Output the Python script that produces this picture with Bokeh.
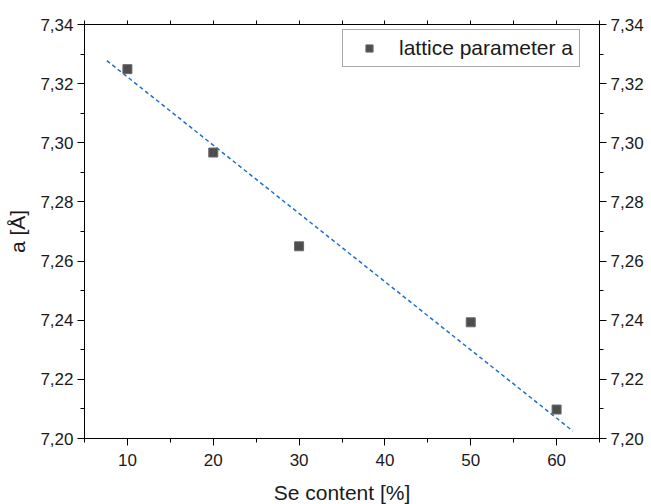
from bokeh.plotting import figure
from bokeh.models import LinearAxis, FixedTicker, Legend, LegendItem, Range1d
from bokeh.embed import file_html
from bokeh.resources import INLINE

# data
se_content = [10, 20, 30, 50, 60]
lattice_a = [7.3249, 7.2967, 7.2650, 7.2393, 7.2098]
fit_x = [7.6, 61.9]
fit_y = [7.3278, 7.2025]

x_ticks = [10, 20, 30, 40, 50, 60]
x_minor = [5, 15, 25, 35, 45, 55, 65]
y_ticks = [7.20, 7.22, 7.24, 7.26, 7.28, 7.30, 7.32, 7.34]
y_minor = [7.21, 7.23, 7.25, 7.27, 7.29, 7.31, 7.33]
y_labels = ["7,20", "7,22", "7,24", "7,26", "7,28", "7,30", "7,32", "7,34"]

FONT = "Liberation Sans"

p = figure(frame_width=515, frame_height=414,
           x_range=Range1d(5, 65), y_range=Range1d(7.20, 7.34),
           output_backend="svg", toolbar_location=None,
           min_border_left=84, min_border_top=24, min_border_right=46,
           min_border_bottom=60, x_axis_label="Se content [%]",
           y_axis_label="a [Å]")
p.xgrid.visible = False
p.ygrid.visible = False
p.outline_line_color = "black"
p.outline_line_width = 1
p.background_fill_color = "white"
p.border_fill_color = "white"

overrides = {v: s for v, s in zip(y_ticks, y_labels)}

def style_axis(ax):
    ax.axis_line_color = "black"
    ax.major_tick_line_color = "black"
    ax.minor_tick_line_color = "black"
    ax.major_tick_in = 0
    ax.minor_tick_in = 0
    ax.major_tick_out = 7
    ax.minor_tick_out = 4
    ax.major_label_text_font = FONT
    ax.major_label_text_font_size = "17px"
    ax.major_label_text_color = "#1a1a1a"
    ax.axis_label_text_font = FONT
    ax.axis_label_text_font_size = "21px"
    ax.axis_label_text_font_style = "normal"
    ax.axis_label_text_color = "#1a1a1a"

xa = p.xaxis[0]
xa.ticker = FixedTicker(ticks=x_ticks, minor_ticks=x_minor)
style_axis(xa)
xa.major_label_standoff = 8
xa.axis_label_standoff = 12

ya = p.yaxis[0]
ya.ticker = FixedTicker(ticks=y_ticks, minor_ticks=y_minor)
ya.major_label_overrides = overrides
style_axis(ya)
ya.major_label_standoff = 4
ya.axis_label_standoff = 8

ra = LinearAxis(ticker=FixedTicker(ticks=y_ticks, minor_ticks=y_minor))
ra.major_label_overrides = overrides
style_axis(ra)
ra.major_label_standoff = 4
p.add_layout(ra, "right")

ta = LinearAxis(ticker=FixedTicker(ticks=x_ticks + x_minor, minor_ticks=[]))
style_axis(ta)
ta.major_tick_out = 4
ta.minor_tick_out = 0
ta.major_label_standoff = 0
ta.major_label_overrides = {v: "" for v in x_ticks + x_minor}
p.add_layout(ta, "above")

p.line(fit_x, fit_y, line_color="#1f6fd0", line_width=1.5, line_dash="4 3")
r = p.scatter(se_content, lattice_a, marker="square", size=9,
              fill_color="#4d4d4d", line_color="#6a6a6a", line_width=1)

legend = Legend(items=[LegendItem(label="lattice parameter a", renderers=[r])],
                location=(258, 371))
legend.label_text_font = FONT
legend.label_text_font_size = "21px"
legend.label_text_color = "#1a1a1a"
legend.border_line_color = "#555555"
legend.border_line_width = 1
legend.background_fill_color = "white"
legend.background_fill_alpha = 1
legend.padding = 6
legend.margin = 0
legend.glyph_width = 40
legend.glyph_height = 18
legend.label_standoff = 10
legend.label_height = 18
p.add_layout(legend, "center")

open("out.html", "w").write(file_html(p, INLINE))
